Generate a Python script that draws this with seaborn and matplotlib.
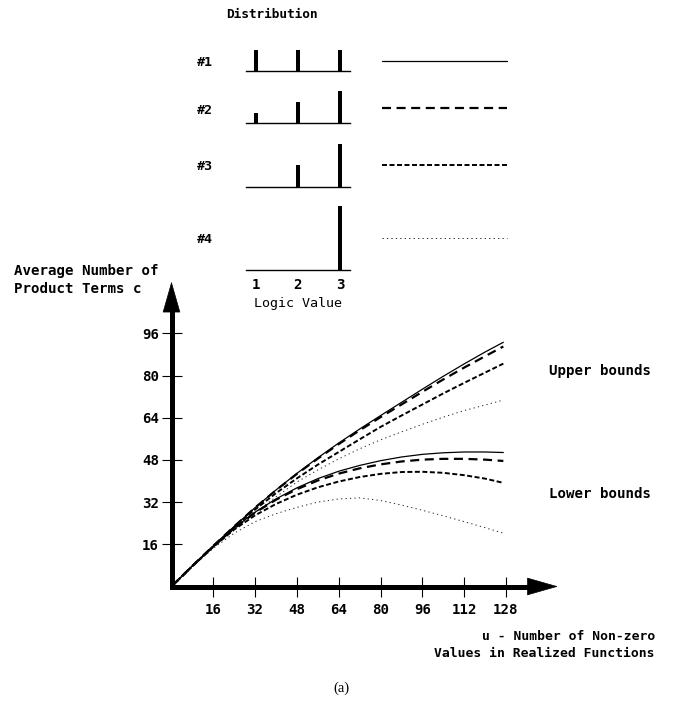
import matplotlib
matplotlib.use("Agg")
import numpy as np
import pandas as pd
import matplotlib.pyplot as plt
import seaborn as sns
from matplotlib.lines import Line2D

# ---- data -------------------------------------------------------------
u = [0, 8, 16, 24, 32, 40, 48, 56, 64, 72, 80, 88, 96, 104, 112, 120, 127]

upper_1 = [0, 7.8, 15.4, 22.8, 29.9, 36.6, 42.9, 48.8, 54.4, 59.7, 64.8, 69.8, 74.8, 79.7, 84.4, 88.9, 92.6]
upper_2 = [0, 7.8, 15.4, 22.8, 29.9, 36.5, 42.7, 48.5, 54.0, 59.2, 64.2, 69.0, 73.8, 78.5, 83.0, 87.3, 91.0]
upper_3 = [0, 7.8, 15.3, 22.5, 29.2, 35.4, 41.0, 46.2, 51.0, 55.8, 60.5, 64.8, 69.0, 73.2, 77.2, 81.1, 84.5]
upper_4 = [0, 7.7, 15.0, 21.8, 28.0, 34.0, 39.6, 44.2, 48.4, 52.2, 55.6, 58.6, 61.5, 64.2, 66.7, 68.8, 70.7]

lower_1 = [0, 7.8, 15.2, 22.2, 28.2, 33.2, 37.4, 40.9, 43.7, 45.9, 47.7, 49.1, 50.1, 50.7, 51.0, 51.0, 50.8]
lower_2 = [0, 7.8, 15.2, 22.1, 28.0, 32.9, 36.9, 40.2, 42.8, 44.8, 46.3, 47.4, 48.1, 48.4, 48.4, 48.1, 47.6]
lower_3 = [0, 7.7, 15.0, 21.6, 27.0, 31.3, 34.8, 37.6, 39.8, 41.5, 42.7, 43.4, 43.5, 43.1, 42.2, 40.9, 39.3]
lower_4 = [0, 7.6, 14.5, 20.2, 24.6, 27.6, 30.0, 32.0, 33.2, 33.6, 32.6, 30.9, 28.9, 26.8, 24.6, 22.3, 20.2]

dist_names = ["#1", "#2", "#3", "#4"]
logic_values = ["1", "2", "3"]
dist_1 = [1/3, 1/3, 1/3]
dist_2 = [1/6, 2/6, 3/6]
dist_3 = [0, 1/3, 2/3]
dist_4 = [0, 0, 1]

x_ticks = [16, 32, 48, 64, 80, 96, 112, 128]
y_ticks = [16, 32, 48, 64, 80, 96]

# ---- style ------------------------------------------------------------
sns.set_theme(style="white")
plt.rcParams["font.family"] = ["DejaVu Sans Mono"]
plt.rcParams["font.weight"] = "bold"
plt.rcParams["text.color"] = "black"
plt.rcParams["axes.labelcolor"] = "black"
plt.rcParams["xtick.color"] = "black"
plt.rcParams["ytick.color"] = "black"
plt.rcParams["lines.scale_dashes"] = False
FS = 9.6

line_styles = {
    "#1": dict(lw=0.9, ls="-", color="black"),
    "#2": dict(lw=1.6, ls=(0, (6.5, 4.0)), color="black"),
    "#3": dict(lw=1.4, ls=(0, (3.6, 1.8)), color="black"),
    "#4": dict(lw=0.7, ls=(0, (0.9, 2.3)), color="#222222"),
}

W, H = 683, 704
fig = plt.figure(figsize=(W / 100, H / 100), dpi=100)
fig.patch.set_facecolor("white")


def rect(x0, y0, x1, y1):
    """Pixel box (top-left origin) -> figure fraction rectangle."""
    return [x0 / W, 1 - y1 / H, (x1 - x0) / W, (y1 - y0) / H]


def ftext(x, y, s, **kw):
    kw.setdefault("fontsize", FS)
    kw.setdefault("va", "center")
    kw.setdefault("color", "black")
    fig.text(x / W, 1 - y / H, s, **kw)


# ---- main chart -------------------------------------------------------
XMAX, YMAX = 150, 118
PX_U, PX_C = 2.613, 2.6375
ox, oy = 171.5, 586.5
ax = fig.add_axes(rect(ox, oy - YMAX * PX_C, ox + XMAX * PX_U, oy))
ax.set_facecolor("none")

df = pd.DataFrame({
    "u": u * 8,
    "c": upper_1 + upper_2 + upper_3 + upper_4 + lower_1 + lower_2 + lower_3 + lower_4,
    "dist": sum([[d] * len(u) for d in dist_names], []) * 2,
    "bound": ["upper"] * (4 * len(u)) + ["lower"] * (4 * len(u)),
})
for (bound, dist), sub in df.groupby(["bound", "dist"], sort=False):
    st = line_styles[dist]
    sns.lineplot(data=sub, x="u", y="c", ax=ax, color=st["color"],
                 linewidth=st["lw"], linestyle=st["ls"], legend=False,
                 estimator=None, sort=False)

ax.set_xlim(0, XMAX)
ax.set_ylim(0, YMAX)
ax.set_xlabel("")
ax.set_ylabel("")
for side in ["top", "right"]:
    ax.spines[side].set_visible(False)
for side in ["left", "bottom"]:
    ax.spines[side].set_linewidth(3.6)
    ax.spines[side].set_color("black")
    ax.spines[side].set_capstyle("projecting")
ax.spines["bottom"].set_bounds(0, 137)
ax.spines["left"].set_bounds(0, 104)

ax.set_xticks(x_ticks)
ax.set_yticks(y_ticks)
ax.set_xticklabels([str(t) for t in x_ticks])
ax.set_yticklabels([str(t) for t in y_ticks])
ax.tick_params(axis="both", direction="inout", length=15, width=0.8,
               color="black", labelsize=FS + 0.6, labelcolor="black",
               bottom=True, left=True)
ax.tick_params(axis="y", pad=1.5)
ax.tick_params(axis="x", pad=4.5)

# arrow heads on the axes
head = "-|>,head_length=2.1,head_width=0.6"
ax.annotate("", xy=(147.9, 0), xytext=(136, 0),
            arrowprops=dict(arrowstyle=head, mutation_scale=10, lw=0.5,
                            color="black", shrinkA=0, shrinkB=0))
ax.annotate("", xy=(0, 115.6), xytext=(0, 103),
            arrowprops=dict(arrowstyle=head, mutation_scale=10, lw=0.5,
                            color="black", shrinkA=0, shrinkB=0))

ftext(14, 280, "Average Number of\nProduct Terms c", ha="left",
      linespacing=1.35, fontsize=10.2)
ftext(655, 645, "u - Number of Non-zero\nValues in Realized Functions",
      ha="right", multialignment="right", linespacing=1.35, fontsize=9.4)
ftext(549, 371, "Upper bounds", ha="left", fontsize=10.2)
ftext(549, 494, "Lower bounds", ha="left", fontsize=10.2)
ftext(341, 688, "(a)", ha="center", family="Liberation Serif", fontsize=10.5,
      fontweight="normal")

# ---- distribution panels ----------------------------------------------
ftext(226, 15, "Distribution", ha="left", fontsize=9.2)
baselines = [71, 123.3, 186.7, 270]
label_y = [62, 110, 167, 240]
key_y = [61, 107.7, 165, 238.3]
dists = [dist_1, dist_2, dist_3, dist_4]
for i, (name, probs) in enumerate(zip(dist_names, dists)):
    b = baselines[i]
    dax = fig.add_axes(rect(246, b - 64.5, 350, b))
    dax.set_facecolor("none")
    sns.barplot(x=logic_values, y=probs, ax=dax, color="black", width=0.075,
                linewidth=0, saturation=1)
    dax.set_xlim(-0.24, 2.24)
    dax.set_ylim(0, 1)
    dax.set_yticks([])
    dax.set_xlabel("")
    dax.set_ylabel("")
    for side in ["top", "right", "left"]:
        dax.spines[side].set_visible(False)
    dax.spines["bottom"].set_linewidth(1.0)
    dax.spines["bottom"].set_color("black")
    if i == 3:
        dax.tick_params(axis="x", length=0, labelsize=FS + 0.6, pad=6,
                        labelcolor="black")
        dax.set_xlabel("Logic Value", fontsize=FS, labelpad=3, color="black")
    else:
        dax.set_xticks([])
    ftext(197, label_y[i], name, ha="left")
    st = line_styles[name]
    fig.add_artist(Line2D([382 / W, 507 / W], [1 - key_y[i] / H] * 2,
                          transform=fig.transFigure, color=st["color"],
                          linewidth=st["lw"], linestyle=st["ls"]))

fig.savefig("out.png", dpi=100)
